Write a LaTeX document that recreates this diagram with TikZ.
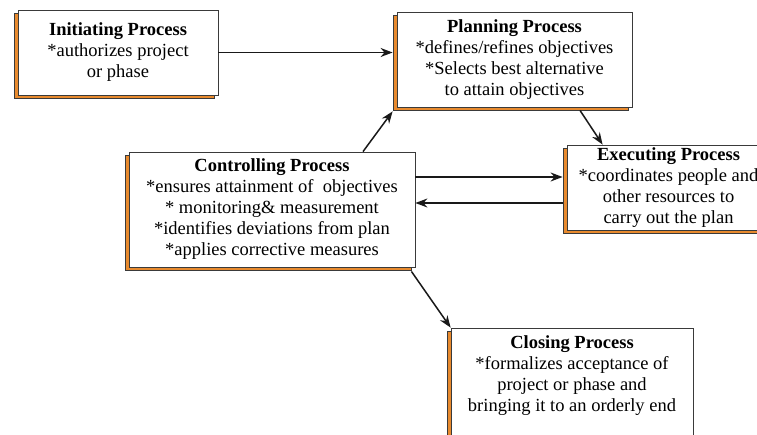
\documentclass[tikz,border=0pt]{standalone}
\usepackage{fontspec}
\setmainfont{Liberation Serif}
\usetikzlibrary{shadows,arrows.meta}
\definecolor{shad}{HTML}{E88A2E}
\definecolor{edge}{HTML}{3A3A3A}
\tikzset{
  procbox/.style={draw=edge, line width=0.8pt, fill=white, rectangle, inner sep=0pt,
    general shadow={fill=shad, draw=edge, line width=0.5pt, shadow xshift=-3.5pt, shadow yshift=-3.5pt}},
  proctext/.style={align=center, inner sep=0pt, font=\fontsize{18.5}{21}\selectfont},
  arr/.style={draw=black!90, line width=1.5pt, -{Stealth[length=12pt,width=9pt]}}
}
\begin{document}
\begin{tikzpicture}[x=1pt,y=-1pt]
\useasboundingbox (0,0) rectangle (757,435);
\clip (0,0) rectangle (757,435);
\node[procbox, minimum width=200pt, minimum height=85pt] (init) at (118,52.5) {};
\node[procbox, minimum width=235pt, minimum height=95pt] (plan) at (514.5,59.5) {};
\node[procbox, minimum width=286pt, minimum height=115pt] (ctrl) at (272,209.5) {};
\node[procbox, minimum width=203pt, minimum height=85pt] (exec) at (668.5,187.5) {};
\node[procbox, minimum width=242pt, minimum height=132pt] (close) at (572,394) {};

\node[proctext] (initT) at (init.center) {\textbf{Initiating Process}\\*authorizes project\\or phase};
\node[proctext] (planT) at (plan.center) {\textbf{Planning Process}\\*defines/refines objectives\\*Selects best alternative\\to attain objectives};
\node[proctext] (ctrlT) at (ctrl.center) {\textbf{Controlling Process}\\*ensures attainment of\ \ objectives\\* monitoring\& measurement\\*identifies deviations from plan\\*applies corrective measures};
\node[proctext] (execT) at (exec.center) {\textbf{Executing Process}\\*coordinates people and\\other resources to\\carry out the plan};
\node[proctext] (closeT) at (572,376) {\textbf{Closing Process}\\*formalizes acceptance of\\project or phase and\\bringing it to an orderly end};

\coordinate (c1) at ([yshift=32.5pt]ctrl.east);
\coordinate (e1) at ([xshift=-4pt]exec.west |- c1);
\coordinate (e2) at ([xshift=-4pt,yshift=-15.5pt]exec.west);
\coordinate (c2) at (ctrl.east |- e2);

\draw[arr] (init.east) -- ([xshift=-4pt]plan.west |- init.east);
\draw[arr] ([xshift=91pt]ctrl.north) -- ([xshift=-4pt,yshift=-4pt]plan.south west);
\draw[arr] ([xshift=65.5pt,yshift=-3pt]plan.south) -- ([xshift=36pt]exec.north west);
\draw[arr] (c1) -- (e1);
\draw[arr] (e2) -- (c2);
\draw[arr] ([xshift=-4pt,yshift=-4pt]ctrl.south east) -- (close.north west);
\end{tikzpicture}
\end{document}
